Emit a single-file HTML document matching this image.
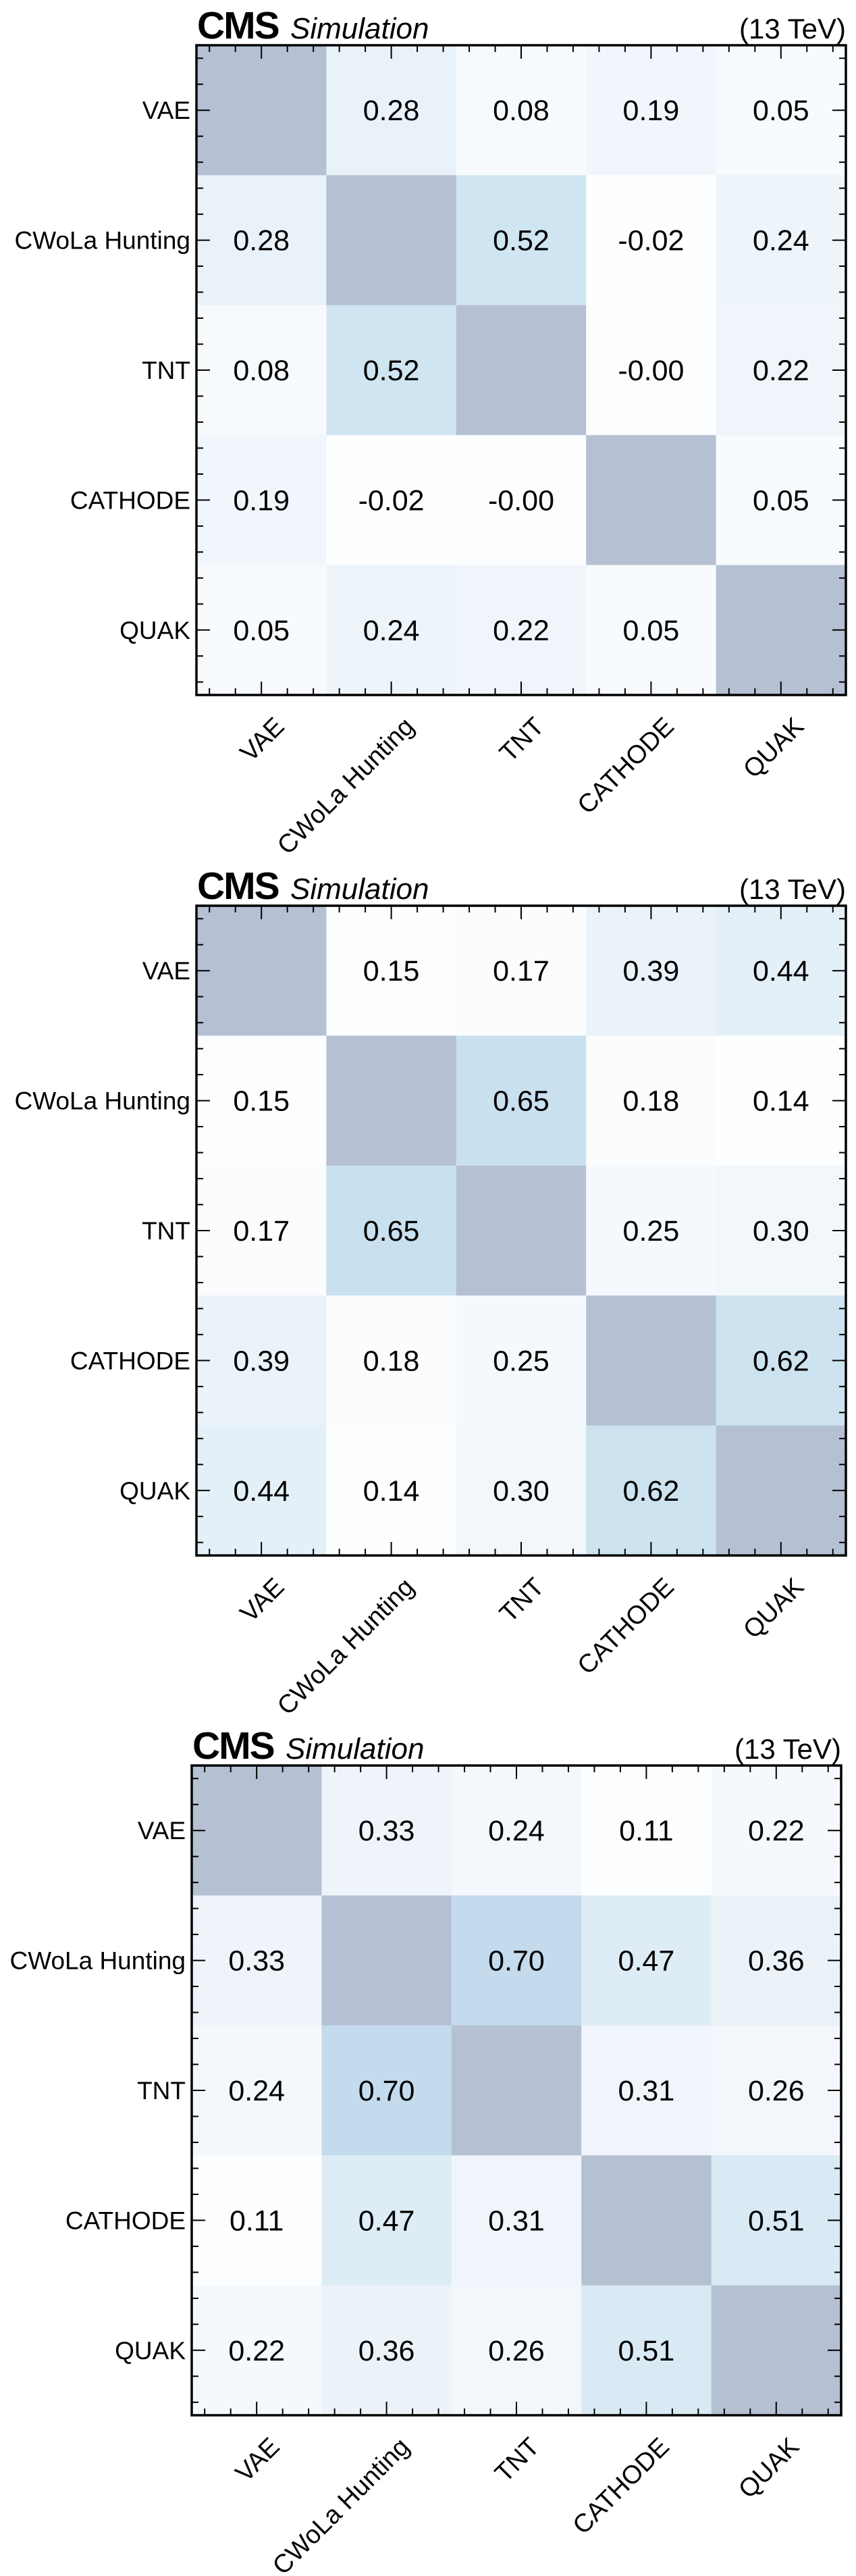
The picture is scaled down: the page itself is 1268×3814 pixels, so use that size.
<!DOCTYPE html>
<html><head><meta charset="utf-8"><style>
html,body{margin:0;padding:0;background:#fff;}
svg{display:block;font-family:"Liberation Sans",Arial,sans-serif;}
</style></head><body>
<svg id="fig" width="1268" height="3814" viewBox="0 0 1268 3814" xmlns="http://www.w3.org/2000/svg"></svg>
<script>
const categories = ["VAE","CWoLa Hunting","TNT","CATHODE","QUAK"];
const panel1Values = [
  [1, 0.28, 0.08, 0.19, 0.05],
  [0.28, 1, 0.52, -0.02, 0.24],
  [0.08, 0.52, 1, -0.001, 0.22],
  [0.19, -0.02, -0.001, 1, 0.05],
  [0.05, 0.24, 0.22, 0.05, 1]
];
const panel2Values = [
  [1, 0.15, 0.17, 0.39, 0.44],
  [0.15, 1, 0.65, 0.18, 0.14],
  [0.17, 0.65, 1, 0.25, 0.30],
  [0.39, 0.18, 0.25, 1, 0.62],
  [0.44, 0.14, 0.30, 0.62, 1]
];
const panel3Values = [
  [1, 0.33, 0.24, 0.11, 0.22],
  [0.33, 1, 0.70, 0.47, 0.36],
  [0.24, 0.70, 1, 0.31, 0.26],
  [0.11, 0.47, 0.31, 1, 0.51],
  [0.22, 0.36, 0.26, 0.51, 1]
];

const NS = "http://www.w3.org/2000/svg";
const svg = document.getElementById("fig");
function mk(tag, attrs, parent){
  const e = document.createElementNS(NS, tag);
  for (const k in attrs) e.setAttribute(k, attrs[k]);
  (parent||svg).appendChild(e);
  return e;
}
const BLUES = [[247,251,255],[222,235,247],[198,219,239],[158,202,225],[107,174,214],[66,146,198],[33,113,181],[8,81,156],[8,48,107]];
function blues(t){
  t = Math.max(0, Math.min(1, t));
  const p = t*8, i = Math.min(7, Math.floor(p)), f = p - i;
  return BLUES[i].map((c,k)=> c + (BLUES[i+1][k]-c)*f);
}
function color(v, vmin){
  const c = blues((v - vmin)/(1 - vmin));
  const a = 0.3;
  const m = c.map(x => Math.round(255*(1-a) + x*a));
  return `rgb(${m[0]},${m[1]},${m[2]})`;
}
function drawPanel(values, left, top, size, idx){
  const g = mk("g", {});
  
  
  const n = categories.length, cw = size / n;
  const vmin = Math.min(...values.flat());
  const xs = i => left + i*cw;
  const ys = j => top + j*cw;
  for (let r = 0; r < n; r++) for (let c = 0; c < n; c++){
    const v = values[r][c];
    const rect = mk("rect", {x: xs(c), y: ys(r), width: cw+0.5, height: cw+0.5, fill: color(v, vmin)}, g);
    
    
    if (r !== c){
      const t = mk("text", {x: xs(c)+cw/2, y: ys(r)+cw/2+15, "text-anchor":"middle", "font-size":43, fill:"#000"}, g);
      t.textContent = v.toFixed(2);
      
      
    }
  }
  const minorStep = cw/5;
  for (let k = 0; k < 25; k++){
    const off = minorStep/2 + k*minorStep;
    const major = (k % 5) === 2;
    const L = major ? 20 : 10;
    const p = left + off, q = top + off;
    mk("line", {x1:p, y1:top+size, x2:p, y2:top+size-L, stroke:"#000", "stroke-width":2}, g);
    mk("line", {x1:p, y1:top, x2:p, y2:top+L, stroke:"#000", "stroke-width":2}, g);
    mk("line", {x1:left, y1:q, x2:left+L, y2:q, stroke:"#000", "stroke-width":2}, g);
    mk("line", {x1:left+size, y1:q, x2:left+size-L, y2:q, stroke:"#000", "stroke-width":2}, g);
  }
  const frame = mk("rect", {x:left, y:top, width:size, height:size, fill:"none", stroke:"#000", "stroke-width":3.5}, g);
  
  
  for (let i = 0; i < n; i++){
    const yl = mk("text", {x:left-9, y:ys(i)+cw/2+13, "text-anchor":"end", "font-size":37}, g);
    yl.textContent = categories[i];
    
    
    const ax = xs(i)+cw/2+36, ay = top+size+49;
    const xl = mk("text", {x:ax, y:ay, "text-anchor":"end", "font-size":38, transform:`rotate(-45 ${ax} ${ay})`}, g);
    xl.textContent = categories[i];
    
    
  }
  const cms = mk("text", {x:left+1, y:top-10, "font-size":57, "font-weight":"bold", "letter-spacing":"-2"}, g);
  cms.textContent = "CMS";
  
  
  const sim = mk("text", {x:left+139, y:top-10, "font-size":44, "font-style":"italic"}, g);
  sim.textContent = "Simulation";
  
  
  const en = mk("text", {x:left+size, y:top-10, "font-size":42, "text-anchor":"end"}, g);
  en.textContent = "(13 TeV)";
  
  
}
drawPanel(panel1Values, 291, 67, 962, 1);
drawPanel(panel2Values, 291, 1341, 962, 2);
drawPanel(panel3Values, 284, 2614, 962, 3);
</script>
</body></html>
